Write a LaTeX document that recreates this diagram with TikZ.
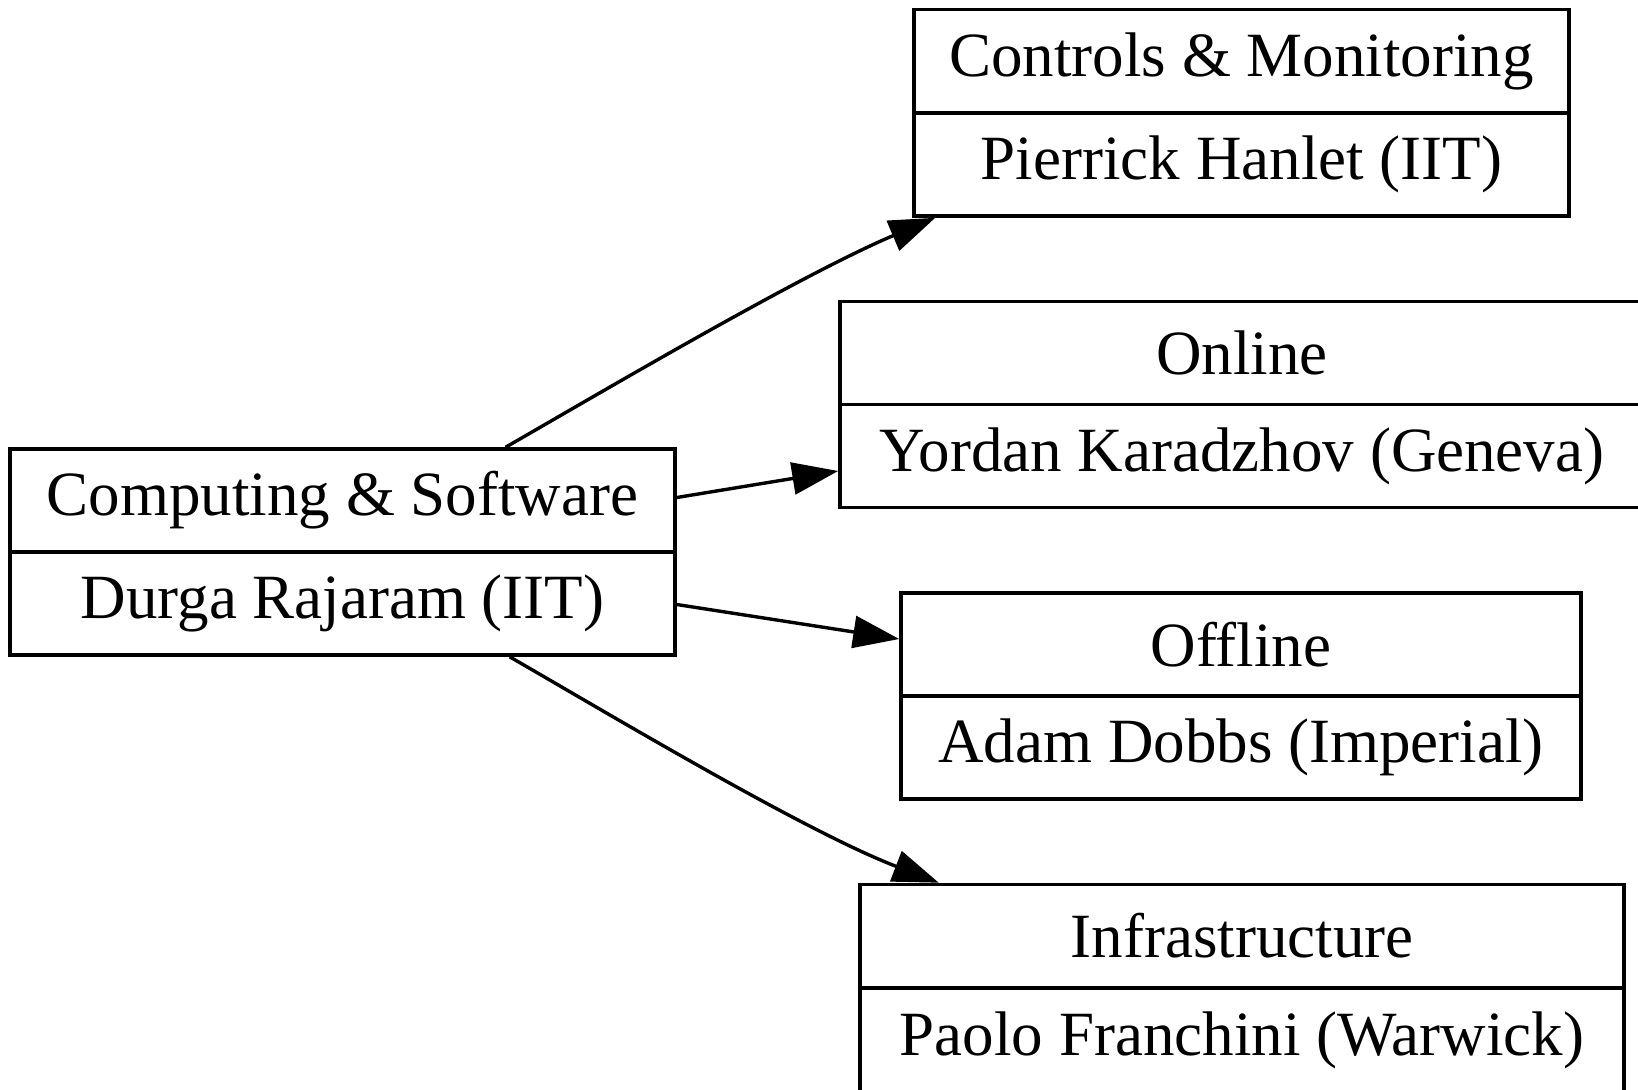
\documentclass[tikz,border=0pt]{standalone}
\usepackage{fontspec}
\setmainfont{Liberation Serif}
\usetikzlibrary{arrows.meta,calc}
\begin{document}
\begin{tikzpicture}[x=0.5pt,y=-0.5pt,
  cell/.style={draw, line width=1.8pt, inner sep=0pt, minimum height=51.5pt,
    font=\fontsize{31.5}{36}\selectfont, anchor=center},
  link/.style={line width=1.7pt, -{Triangle[length=23pt,width=16pt]}}]
\useasboundingbox (0,0) rectangle (1638,1089);
\clip (0,0) rectangle (1638,1089);

\node[cell, minimum width=332.5pt] (compT) at (342.5,500.5) {Computing \& Software};
\node[cell, minimum width=332.5pt] (compB) at (342.5,603.5) {Durga Rajaram (IIT)};

\node[cell, minimum width=327.5pt] (ctrlT) at (1241.5,61) {Controls \& Monitoring};
\node[cell, minimum width=327.5pt] (ctrlB) at (1241.5,164.5) {Pierrick Hanlet (IIT)};

\node[cell, minimum width=402pt] (onT) at (1242,353) {Online};
\node[cell, minimum width=402pt] (onB) at (1242,456) {Yordan Karadzhov (Geneva)};

\node[cell, minimum width=340pt] (offT) at (1241,644.5) {Offline};
\node[cell, minimum width=340pt] (offB) at (1241,747.5) {Adam Dobbs (Imperial)};

\node[cell, minimum width=382pt] (infT) at (1242,936) {Infrastructure};
\node[cell, minimum width=382pt] (infB) at (1242,1040) {Paolo Franchini (Warwick)};

\draw[link] ($(compT.north west)!0.744!(compT.north east)$)
  .. controls (600,393) and (800,275) .. ($(ctrlB.south west)!0.035!(ctrlB.south east)$);
\draw[link] ([yshift=1.5pt]compT.east) -- ([yshift=-7.5pt]onB.west);
\draw[link] ([yshift=-0.5pt]compB.east) -- ([yshift=2.75pt]offT.west);
\draw[link] ($(compB.south west)!0.75!(compB.south east)$)
  .. controls (604,711) and (804,831) .. ($(infT.north west)!0.105!(infT.north east)$);
\end{tikzpicture}
\end{document}
